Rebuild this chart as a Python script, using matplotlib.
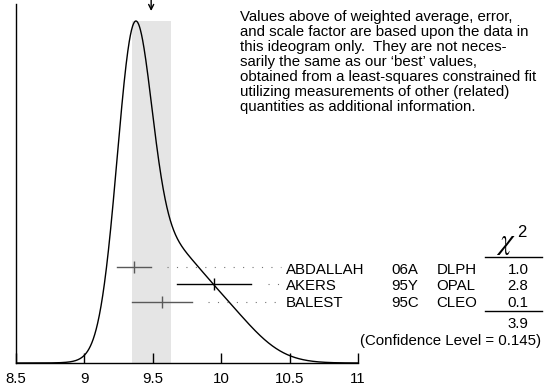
import numpy as np
import matplotlib
matplotlib.use("Agg")
import matplotlib.pyplot as plt
from matplotlib.transforms import blended_transform_factory

# ---------------------------------------------------------------
#  data
# ---------------------------------------------------------------
names = ["ABDALLAH", "AKERS", "BALEST"]
years = ["06A", "95Y", "95C"]
expts = ["DLPH", "OPAL", "CLEO"]
values = [9.36, 9.947, 9.565]
errors = [0.125, 0.272, 0.22]
bar_colors = ["0.35", "black", "0.35"]
chi2_vals = ["1.0", "2.8", "0.1"]
chi2_total = "3.9"
conf_level = "0.145"

avg = 9.488        # weighted average (arrow)
avg_err = 0.143    # scaled error (grey band)

xticks = [8.5, 9, 9.5, 10, 10.5, 11]
xtick_labels = ["8.5", "9", "9.5", "10", "10.5", "11"]

note_lines = [
    "Values above of weighted average, error,",
    "and scale factor are based upon the data in",
    "this ideogram only.  They are not neces-",
    "sarily the same as our \u2018best\u2019 values,",
    "obtained from a least-squares constrained fit",
    "utilizing measurements of other (related)",
    "quantities as additional information.",
]

# ---------------------------------------------------------------
W, H = 548, 392
plt.rcParams["font.family"] = ["Liberation Sans", "DejaVu Sans"]
FS = 10.8

fig = plt.figure(figsize=(W / 100, H / 100), dpi=100)


def fx(px):
    return px / W


def fy(py):
    return 1 - py / H


# axes: x 8.5 -> px 16, 11 -> px 358 ; y top px 4, bottom px 363
ax = fig.add_axes([fx(16), fy(363), fx(358) - fx(16), fy(4) - fy(363)])

# ideogram: gaussians with area ~ 1/sigma
x = np.linspace(8.5, 11, 1200)
curve = np.zeros_like(x)
for v, e in zip(values, errors):
    curve += np.exp(-0.5 * ((x - v) / e) ** 2) / e ** 2
peak = curve.max()
ytop = peak * 359 / 342
ax.set_xlim(8.5, 11)
ax.set_ylim(0, ytop)

ax.axvspan(avg - avg_err, avg + avg_err, ymin=0, ymax=peak / ytop,
           color="#e5e5e5", lw=0, zorder=0)
ax.plot(x, curve, color="black", lw=1.0, zorder=3)

# measurements
row_y = [(363 - 266.5) / 359, (363 - 284) / 359, (363 - 301.5) / 359]
trans = blended_transform_factory(ax.transData, ax.transAxes)
for v, e, yy, c in zip(values, errors, row_y, bar_colors):
    ax.plot([v - e, v + e], [yy, yy], color=c, lw=1.0, transform=trans,
            zorder=4, clip_on=False)
    ax.plot([v], [yy], marker="|", ms=8.5, mew=1.0, color=c,
            transform=trans, zorder=4, clip_on=False)
    ax.plot([v + e + 0.12, 10.437], [yy, yy], color="0.45", lw=0.8,
            linestyle=(0, (1, 7.5)), transform=trans, clip_on=False)

# arrow at the weighted average
ax.annotate("", xy=(avg, fy(11)), xytext=(avg, fy(-1)),
            xycoords=blended_transform_factory(ax.transData, fig.transFigure),
            arrowprops=dict(arrowstyle="->", lw=1.0, color="black",
                            mutation_scale=9, shrinkA=0, shrinkB=0))

# axes styling
for side in ["top", "right"]:
    ax.spines[side].set_visible(False)
ax.spines["left"].set_linewidth(1.0)
ax.spines["bottom"].set_linewidth(1.0)
ax.set_yticks([])
ax.set_xticks(xticks)
ax.set_xticklabels(xtick_labels, fontsize=FS)
ax.tick_params(axis="x", direction="in", length=7, width=1.0, pad=6.5)

# note
for i, line in enumerate(note_lines):
    fig.text(fx(240), fy(21 + 15 * i), line, fontsize=FS, va="baseline",
             ha="left")

# labels to the right
row_base = [273.7, 290.4, 307.1]
for n, yr, ex, ch, yb in zip(names, years, expts, chi2_vals, row_base):
    fig.text(fx(286), fy(yb), n, fontsize=FS, va="baseline", ha="left")
    fig.text(fx(391.5), fy(yb), yr, fontsize=FS, va="baseline", ha="left")
    fig.text(fx(436.5), fy(yb), ex, fontsize=FS, va="baseline", ha="left")
    fig.text(fx(518), fy(yb), ch, fontsize=FS, va="baseline", ha="center")

fig.text(fx(506), fy(249), r"$\chi$", fontsize=21, va="baseline",
         ha="center", math_fontfamily="stix")
fig.text(fx(522), fy(237), "2", fontsize=12, va="baseline",
         ha="center")
fig.add_artist(plt.Line2D([fx(485), fx(542)], [fy(256.7), fy(256.7)],
                          color="black", lw=1.0))
fig.add_artist(plt.Line2D([fx(485), fx(542)], [fy(311), fy(311)],
                          color="black", lw=1.0))
fig.text(fx(518), fy(327.7), chi2_total, fontsize=FS, va="baseline",
         ha="center")
fig.text(fx(541), fy(345.5), f"(Confidence Level = {conf_level})",
         fontsize=FS, va="baseline", ha="right")

fig.savefig("out.png", dpi=100)
